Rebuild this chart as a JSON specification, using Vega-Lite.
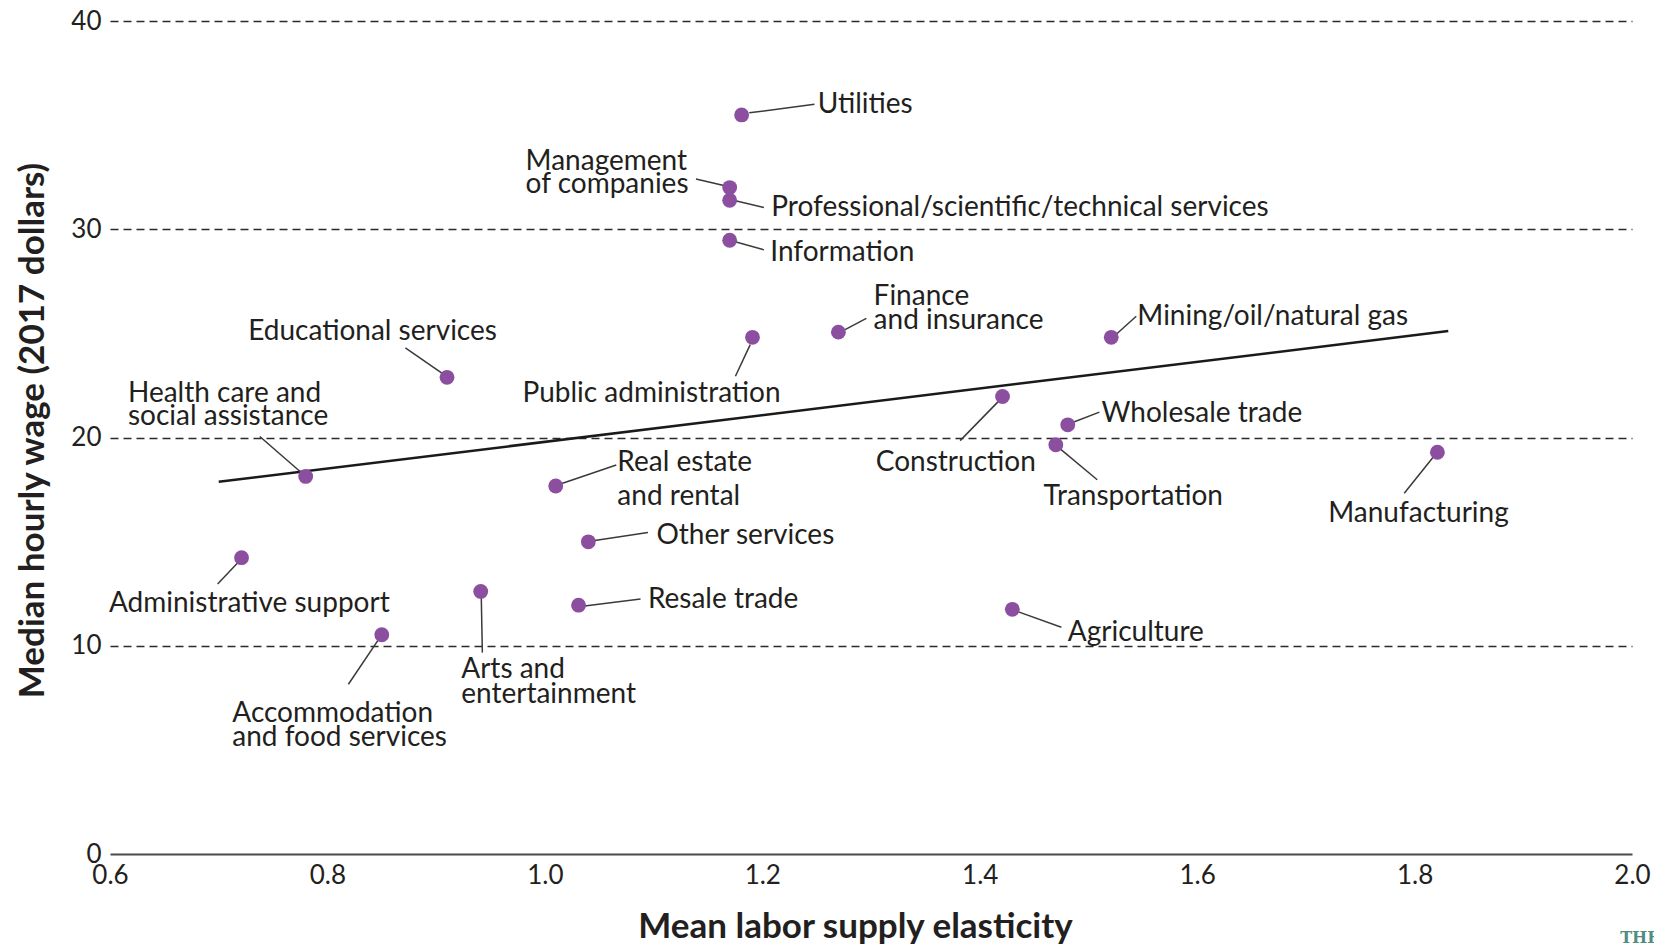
{
  "$schema": "https://vega.github.io/schema/vega-lite/v6.json",
  "width": 1522,
  "height": 833,
  "autosize": {"type": "none"},
  "padding": {"left": 110, "top": 21, "right": 22, "bottom": 93},
  "background": "white",
  "title": {
    "text": "THE",
    "orient": "bottom",
    "anchor": "end",
    "align": "left",
    "baseline": "middle",
    "dx": -30,
    "dy": -6,
    "offset": 0,
    "font": "DejaVu Serif",
    "fontSize": 16,
    "fontWeight": "bold",
    "color": "#4f8c83"
  },
  "config": {
    "view": {"stroke": null},
    "font": "Lato",
    "axis": {"labelFont": "Lato", "titleFont": "Lato", "labelColor": "#231f20", "titleColor": "#231f20"}
  },
  "datasets": {
    "points": [
      {"industry": "Utilities", "x": 1.181, "y": 35.49},
      {"industry": "Management of companies", "x": 1.170, "y": 32.0},
      {"industry": "Professional/scientific/technical services", "x": 1.170, "y": 31.39},
      {"industry": "Information", "x": 1.170, "y": 29.47},
      {"industry": "Public administration", "x": 1.191, "y": 24.81},
      {"industry": "Finance and insurance", "x": 1.270, "y": 25.06},
      {"industry": "Mining/oil/natural gas", "x": 1.521, "y": 24.81},
      {"industry": "Educational services", "x": 0.910, "y": 22.89},
      {"industry": "Construction", "x": 1.421, "y": 21.97},
      {"industry": "Wholesale trade", "x": 1.481, "y": 20.61},
      {"industry": "Transportation", "x": 1.470, "y": 19.65},
      {"industry": "Manufacturing", "x": 1.821, "y": 19.29},
      {"industry": "Health care and social assistance", "x": 0.780, "y": 18.13},
      {"industry": "Real estate and rental", "x": 1.010, "y": 17.67},
      {"industry": "Other services", "x": 1.040, "y": 14.99},
      {"industry": "Administrative support", "x": 0.721, "y": 14.23},
      {"industry": "Arts and entertainment", "x": 0.941, "y": 12.61},
      {"industry": "Resale trade", "x": 1.031, "y": 11.95},
      {"industry": "Agriculture", "x": 1.430, "y": 11.75},
      {"industry": "Accommodation and food services", "x": 0.850, "y": 10.53}
    ],
    "trend": [
      {"x": 0.700, "y": 17.87, "x2": 1.831, "y2": 25.11}
    ],
    "leaders": [
      {"industry": "Utilities", "x": 1.188, "y": 35.59, "x2": 1.248, "y2": 36.0},
      {"industry": "Management of companies", "x": 1.139, "y": 32.41, "x2": 1.1685, "y2": 32.05},
      {"industry": "Professional/scientific/technical services", "x": 1.1734, "y": 31.39, "x2": 1.2015, "y2": 31.04},
      {"industry": "Information", "x": 1.1734, "y": 29.42, "x2": 1.2015, "y2": 29.01},
      {"industry": "Finance and insurance", "x": 1.2753, "y": 25.16, "x2": 1.2957, "y2": 25.72},
      {"industry": "Mining/oil/natural gas", "x": 1.5246, "y": 24.91, "x2": 1.544, "y2": 25.82},
      {"industry": "Educational services", "x": 0.8717, "y": 24.30, "x2": 0.9066, "y2": 23.04},
      {"industry": "Public administration", "x": 1.1889, "y": 24.46, "x2": 1.1753, "y2": 22.94},
      {"industry": "Health care and social assistance", "x": 0.7378, "y": 20.05, "x2": 0.7756, "y2": 18.33},
      {"industry": "Wholesale trade", "x": 1.4848, "y": 20.71, "x2": 1.5101, "y2": 21.22},
      {"industry": "Construction", "x": 1.4179, "y": 21.77, "x2": 1.382, "y2": 19.85},
      {"industry": "Real estate and rental", "x": 1.0143, "y": 17.77, "x2": 1.0657, "y2": 18.68},
      {"industry": "Transportation", "x": 1.4732, "y": 19.49, "x2": 1.5081, "y2": 17.97},
      {"industry": "Manufacturing", "x": 1.8176, "y": 19.09, "x2": 1.7905, "y2": 17.32},
      {"industry": "Other services", "x": 1.0444, "y": 15.04, "x2": 1.0948, "y2": 15.44},
      {"industry": "Administrative support", "x": 0.7184, "y": 14.03, "x2": 0.699, "y2": 12.96},
      {"industry": "Arts and entertainment", "x": 0.9415, "y": 12.41, "x2": 0.9425, "y2": 9.67},
      {"industry": "Resale trade", "x": 1.0347, "y": 11.90, "x2": 1.088, "y2": 12.25},
      {"industry": "Agriculture", "x": 1.4344, "y": 11.65, "x2": 1.4751, "y2": 10.89},
      {"industry": "Accommodation and food services", "x": 0.8474, "y": 10.33, "x2": 0.8193, "y2": 8.15}
    ],
    "labels": [
      {"label": "Utilities", "x": 1.251, "y": 36.05},
      {"label": "Management", "x": 0.9823, "y": 33.32},
      {"label": "of companies", "x": 0.9823, "y": 32.20},
      {"label": "Professional/scientific/technical services", "x": 1.2083, "y": 31.14},
      {"label": "Information", "x": 1.2074, "y": 28.96},
      {"label": "Finance", "x": 1.3024, "y": 26.84},
      {"label": "and insurance", "x": 1.3024, "y": 25.67},
      {"label": "Mining/oil/natural gas", "x": 1.545, "y": 25.87},
      {"label": "Educational services", "x": 0.7271, "y": 25.16},
      {"label": "Public administration", "x": 0.9794, "y": 22.18},
      {"label": "Health care and", "x": 0.6165, "y": 22.18},
      {"label": "social assistance", "x": 0.6165, "y": 21.06},
      {"label": "Wholesale trade", "x": 1.512, "y": 21.22},
      {"label": "Construction", "x": 1.3044, "y": 18.89},
      {"label": "Real estate", "x": 1.0667, "y": 18.89},
      {"label": "and rental", "x": 1.0667, "y": 17.22},
      {"label": "Transportation", "x": 1.4587, "y": 17.22},
      {"label": "Manufacturing", "x": 1.7206, "y": 16.41},
      {"label": "Other services", "x": 1.1026, "y": 15.39},
      {"label": "Administrative support", "x": 0.599, "y": 12.10},
      {"label": "Resale trade", "x": 1.0948, "y": 12.30},
      {"label": "Agriculture", "x": 1.481, "y": 10.73},
      {"label": "Arts and", "x": 0.9231, "y": 8.91},
      {"label": "entertainment", "x": 0.9231, "y": 7.75},
      {"label": "Accommodation", "x": 0.7125, "y": 6.84},
      {"label": "and food services", "x": 0.7125, "y": 5.67}
    ]
  },
  "encoding": {
    "x": {
      "field": "x",
      "type": "quantitative",
      "scale": {"domain": [0.6, 2.0], "nice": false, "zero": false},
      "axis": {
        "values": [0.6, 0.8, 1.0, 1.2, 1.4, 1.6, 1.8, 2.0],
        "format": ".1f",
        "grid": false,
        "ticks": false,
        "labelFlush": false,
        "domainColor": "#4a4a4a",
        "domainWidth": 2,
        "labelFontSize": 26,
        "labelPadding": 8,
        "title": "Mean labor supply elasticity",
        "titleFontSize": 35,
        "titleFontWeight": 700,
        "titlePadding": 21,
        "titleX": 745
      }
    },
    "y": {
      "field": "y",
      "type": "quantitative",
      "scale": {"domain": [0, 40], "nice": false},
      "axis": {
        "values": [0, 10, 20, 30, 40],
        "domain": false,
        "ticks": false,
        "grid": true,
        "gridDash": [8, 5],
        "gridColor": "#2a2a2a",
        "gridWidth": 1.5,
        "gridOpacity": {"condition": {"test": "datum.value === 0", "value": 0}, "value": 1},
        "labelFontSize": 26,
        "labelPadding": 9,
        "title": "Median hourly wage (2017 dollars)",
        "titleFontSize": 35,
        "titleFontWeight": 700,
        "titlePadding": 20,
        "titleY": 409
      }
    }
  },
  "layer": [
    {
      "data": {"name": "trend"},
      "mark": {"type": "rule", "color": "#1a1a1a", "strokeWidth": 2.5},
      "encoding": {"x2": {"field": "x2"}, "y2": {"field": "y2"}}
    },
    {
      "data": {"name": "leaders"},
      "mark": {"type": "rule", "color": "#3a3a3a", "strokeWidth": 1.5},
      "encoding": {"x2": {"field": "x2"}, "y2": {"field": "y2"}}
    },
    {
      "data": {"name": "points"},
      "mark": {"type": "point", "filled": true, "shape": "circle", "size": 220, "color": "#8c4f9f", "opacity": 1},
      "encoding": {}
    },
    {
      "data": {"name": "labels"},
      "mark": {"type": "text", "align": "left", "baseline": "middle", "dy": 2, "font": "Lato", "fontSize": 28, "color": "#231f20"},
      "encoding": {"text": {"field": "label"}}
    }
  ]
}
